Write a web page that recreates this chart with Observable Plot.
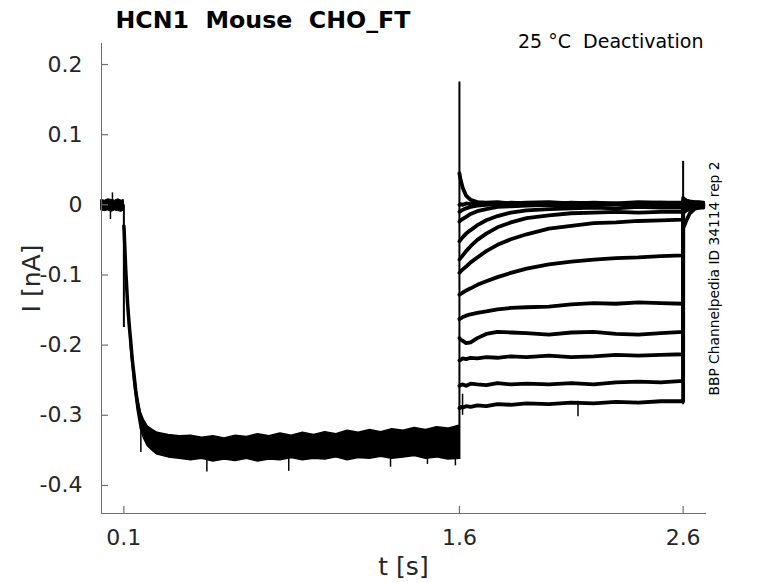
<!DOCTYPE html>
<html><head><meta charset="utf-8">
<script src="https://cdn.jsdelivr.net/npm/d3@7"></script>
<script src="https://cdn.jsdelivr.net/npm/@observablehq/plot@0.6"></script>
<style>body{margin:0;background:#fff}#chart svg{display:block}</style>
</head><body><div id="chart"></div>
<script>
// ---- text ----
const titleText = "HCN1  Mouse  CHO_FT";
const condText = "25 °C  Deactivation";
const sideText = "BBP Channelpedia ID 34114 rep 2";
const xLabel = "t [s]";
const yLabel = "I [nA]";

// ---- ticks ----
const xTicks = [0.1, 1.6, 2.6];
const xTickLabels = ["0.1", "1.6", "2.6"];
const yTicks = [-0.4, -0.3, -0.2, -0.1, 0, 0.1, 0.2];
const yTickLabels = ["-0.4", "-0.3", "-0.2", "-0.1", "0", "0.1", "0.2"];

// ---- holding (0-0.1 s), envelope of all sweeps [nA] ----
const holdT  = [0, 0.015, 0.03, 0.045, 0.06, 0.075, 0.09, 0.1];
const holdHi = [0.007, 0.006, 0.008, 0.007, 0.006, 0.008, 0.006, 0.007];
const holdLo = [-0.008, -0.009, -0.008, -0.010, -0.008, -0.009, -0.010, -0.008];

// ---- activation, common fast phase ----
const actT   = [0.1, 0.1014, 0.108, 0.1165, 0.124, 0.1313, 0.138, 0.146, 0.153, 0.161, 0.168, 0.176, 0.19, 0.206, 0.23, 0.251];
const actMid = [-0.030, -0.038, -0.090, -0.140, -0.172, -0.197, -0.222, -0.244, -0.265, -0.282, -0.295, -0.306, -0.318, -0.325, -0.330, -0.334];

// ---- activation plateau, envelope of all sweeps ----
const bandT  = [0.131, 0.146, 0.161, 0.176, 0.19, 0.207, 0.23, 0.25, 0.3, 0.35,
                0.40, 0.45, 0.50, 0.55, 0.60, 0.65, 0.70, 0.75, 0.80, 0.85, 0.90, 0.95, 1.00,
                1.05, 1.10, 1.15, 1.20, 1.25, 1.30, 1.35, 1.40, 1.45, 1.50, 1.55, 1.60];
const bandHi = [-0.188, -0.235, -0.273, -0.296, -0.307, -0.316, -0.321, -0.325, -0.328, -0.330,
                -0.329, -0.332, -0.330, -0.333, -0.329, -0.331, -0.327, -0.330, -0.326, -0.329, -0.325, -0.328, -0.324,
                -0.327, -0.322, -0.325, -0.321, -0.324, -0.320, -0.322, -0.318, -0.321, -0.317, -0.319, -0.315];
const bandLo = [-0.203, -0.253, -0.292, -0.320, -0.333, -0.344, -0.351, -0.356, -0.360, -0.362,
                -0.364, -0.362, -0.366, -0.363, -0.365, -0.362, -0.366, -0.363, -0.364, -0.361, -0.364, -0.362, -0.363,
                -0.360, -0.364, -0.361, -0.362, -0.359, -0.362, -0.360, -0.358, -0.362, -0.360, -0.363, -0.362];

// ---- deactivation tails (1.6-2.6 s), one array per sweep ----
const tailT = [1.6, 1.605, 1.615, 1.63, 1.65, 1.68, 1.72, 1.77, 1.83, 1.9, 2.0, 2.1, 2.2, 2.3, 2.4, 2.5, 2.6];
const tail01 = [0.045, 0.036, 0.024, 0.013, 0.007, 0.004, 0.003, 0.004, 0.002, 0.003, 0.004, 0.002, 0.003, 0.002, 0.004, 0.003, 0.003];
const tail02 = [0.000, 0.001, 0.000, 0.002, 0.001, 0.003, 0.002, 0.001, 0.003, 0.002, 0.001, 0.003, 0.002, 0.001, 0.002, 0.003, 0.002];
const tail03 = [-0.010, -0.009, -0.007, -0.005, -0.003, -0.001, 0.000, 0.001, 0.000, 0.002, 0.001, 0.000, 0.001, 0.002, 0.000, 0.001, 0.001];
const tail04 = [-0.024, -0.022, -0.020, -0.017, -0.013, -0.009, -0.006, -0.003, -0.002, -0.001, 0.000, -0.001, 0.000, 0.001, -0.001, 0.000, 0.000];
const tail05 = [-0.052, -0.050, -0.046, -0.041, -0.036, -0.029, -0.022, -0.016, -0.011, -0.008, -0.006, -0.005, -0.004, -0.005, -0.003, -0.004, -0.004];
const tail06 = [-0.078, -0.076, -0.072, -0.066, -0.059, -0.050, -0.041, -0.032, -0.025, -0.019, -0.015, -0.012, -0.011, -0.010, -0.011, -0.010, -0.010];
const tail07 = [-0.097, -0.095, -0.092, -0.088, -0.082, -0.075, -0.066, -0.057, -0.049, -0.042, -0.034, -0.030, -0.026, -0.025, -0.023, -0.022, -0.021];
const tail08 = [-0.128, -0.127, -0.125, -0.122, -0.119, -0.114, -0.109, -0.103, -0.097, -0.091, -0.085, -0.081, -0.078, -0.076, -0.075, -0.073, -0.072];
const tail09 = [-0.163, -0.162, -0.160, -0.158, -0.156, -0.154, -0.152, -0.149, -0.147, -0.146, -0.145, -0.142, -0.140, -0.141, -0.139, -0.140, -0.141];
const tail10 = [-0.190, -0.192, -0.194, -0.197, -0.196, -0.190, -0.184, -0.181, -0.182, -0.183, -0.185, -0.182, -0.181, -0.184, -0.185, -0.183, -0.181];
const tail11 = [-0.222, -0.221, -0.219, -0.220, -0.218, -0.219, -0.217, -0.218, -0.216, -0.217, -0.215, -0.217, -0.216, -0.214, -0.215, -0.214, -0.213];
const tail12 = [-0.258, -0.257, -0.256, -0.258, -0.255, -0.256, -0.257, -0.254, -0.256, -0.255, -0.256, -0.254, -0.256, -0.253, -0.252, -0.253, -0.251];
const tail13 = [-0.290, -0.288, -0.289, -0.287, -0.288, -0.286, -0.287, -0.284, -0.285, -0.283, -0.284, -0.282, -0.283, -0.281, -0.282, -0.280, -0.280];

// ---- return to holding (2.6-2.69 s) ----
const postT = [2.6, 2.605, 2.615, 2.63, 2.65, 2.67, 2.69];
const post01 = [0.010, 0.008, 0.006, 0.005, 0.004, 0.004, 0.003];
const post02 = [0.006, 0.005, 0.004, 0.004, 0.003, 0.003, 0.002];
const post03 = [0.004, 0.004, 0.003, 0.002, 0.003, 0.002, 0.002];
const post04 = [0.002, 0.002, 0.001, 0.002, 0.001, 0.001, 0.001];
const post05 = [0.000, 0.000, 0.001, 0.000, 0.000, 0.001, 0.000];
const post06 = [-0.002, -0.002, -0.001, -0.001, 0.000, -0.001, 0.000];
const post07 = [-0.004, -0.004, -0.003, -0.002, -0.002, -0.001, -0.001];
const post08 = [-0.006, -0.005, -0.004, -0.003, -0.002, -0.002, -0.001];
const post09 = [-0.008, -0.007, -0.005, -0.004, -0.003, -0.002, -0.002];
const post10 = [-0.009, -0.008, -0.006, -0.005, -0.004, -0.003, -0.002];
const post11 = [-0.010, -0.009, -0.007, -0.005, -0.004, -0.003, -0.003];
const post12 = [-0.012, -0.010, -0.008, -0.006, -0.004, -0.004, -0.003];
const post13 = [-0.033, -0.030, -0.022, -0.012, -0.006, -0.004, -0.004];

// ---- capacitive transients at the voltage steps ----
const transT  = [0.1, 1.6, 2.6];
const transLo = [-0.175, -0.363, -0.285];
const transHi = [0.0, 0.175, 0.062];

// ---- isolated noise spikes ----
const spikeT  = [0.040, 0.049, 0.176, 0.471, 0.837, 1.292, 1.457, 1.582, 1.614, 2.13];
const spikeLo = [-0.021, 0.0, -0.353, -0.381, -0.380, -0.374, -0.370, -0.372, -0.300, -0.302];
const spikeHi = [0.0, 0.017, -0.31, -0.36, -0.36, -0.36, -0.36, -0.36, -0.270, -0.280];

// ---- build tables ----
const tails = [tail01, tail02, tail03, tail04, tail05, tail06, tail07, tail08, tail09, tail10, tail11, tail12, tail13];
const posts = [post01, post02, post03, post04, post05, post06, post07, post08, post09, post10, post11, post12, post13];
const sweepRows = tails.flatMap((tv, s) =>
  tailT.map((t, j) => ({sweep: s, t, i: tv[j]}))
    .concat(postT.map((t, j) => ({sweep: s, t, i: posts[s][j]}))));
const holdRows = holdT.map((t, j) => ({t, lo: holdLo[j], hi: holdHi[j]}));
const actRows = actT.map((t, j) => ({t, i: actMid[j]}));
const bandRows = bandT.map((t, j) => ({t, lo: bandLo[j], hi: bandHi[j]}));
const transRows = transT.map((t, j) => ({t, lo: transLo[j], hi: transHi[j]}));
const spikeRows = spikeT.map((t, j) => ({t, lo: spikeLo[j], hi: spikeHi[j]}));
const xLab = new Map(xTicks.map((d, j) => [d, xTickLabels[j]]));
const yLab = new Map(yTicks.map((d, j) => [d, yTickLabels[j]]));

const axisGray = "#6e6e6e";
const textDark = "#262626";
const W = 778, H = 583, mL = 101, mR = 73, mT = 43, mB = 70, tickLen = 7;

const chart = Plot.plot({
  width: W, height: H,
  marginLeft: mL, marginRight: mR, marginTop: mT, marginBottom: mB,
  style: {fontFamily: "DejaVu Sans", background: "white", color: textDark, overflow: "visible"},
  x: {domain: [0, 2.7]},
  y: {domain: [-0.44, 0.23]},
  marks: [
    Plot.areaY(holdRows, {x: "t", y1: "lo", y2: "hi", fill: "black", stroke: "black", strokeWidth: 1}),
    Plot.line(actRows, {x: "t", y: "i", stroke: "black", strokeWidth: 3.5}),
    Plot.areaY(bandRows, {x: "t", y1: "lo", y2: "hi", fill: "black", stroke: "black", strokeWidth: 1.5}),
    Plot.line(sweepRows, {x: "t", y: "i", z: "sweep", stroke: "black", strokeWidth: 3.8}),
    Plot.ruleX(transRows, {x: "t", y1: "lo", y2: "hi", stroke: "black", strokeWidth: 2}),
    Plot.ruleX(spikeRows, {x: "t", y1: "lo", y2: "hi", stroke: "black", strokeWidth: 1.5}),
    Plot.frame({anchor: "left", stroke: axisGray}),
    Plot.frame({anchor: "bottom", stroke: axisGray}),
    // inward ticks (MATLAB style)
    Plot.axisY({ticks: yTicks, tickSize: tickLen, dx: tickLen, tickFormat: () => "", stroke: axisGray, strokeWidth: 1.2, label: null}),
    Plot.tickX(xTicks, {x: d => d, stroke: axisGray, strokeWidth: 1.2, insetTop: (H - mT - mB) - tickLen}),
    // tick labels
    Plot.axisY({ticks: yTicks, tickFormat: d => yLab.get(d), tickSize: 0, tickPadding: 19, fontSize: 22, fill: textDark, label: null}),
    Plot.axisX({ticks: xTicks, tickFormat: d => xLab.get(d), tickSize: 0, tickPadding: 16, fontSize: 22, fill: textDark, label: null}),
    Plot.text([titleText], {text: d => d, frameAnchor: "top-left", dx: 14, dy: -16, textAnchor: "start", lineAnchor: "bottom", fontSize: 23.7, fontWeight: "bold", fill: "black"}),
    Plot.text([condText], {text: d => d, frameAnchor: "top-right", dx: -2, dy: 4, textAnchor: "end", lineAnchor: "bottom", fontSize: 19, fill: "black"}),
    Plot.text([sideText], {text: d => d, frameAnchor: "right", dx: 13, rotate: -90, textAnchor: "middle", lineAnchor: "bottom", fontSize: 13.8, fill: "black"}),
    Plot.text([yLabel], {text: d => d, frameAnchor: "left", dx: -62, rotate: -90, textAnchor: "middle", lineAnchor: "bottom", fontSize: 25, fill: textDark}),
    Plot.text([xLabel], {text: d => d, frameAnchor: "bottom", dy: 61, textAnchor: "middle", lineAnchor: "bottom", fontSize: 25, fill: textDark})
  ]
});
document.getElementById("chart").appendChild(chart);
</script></body></html>
